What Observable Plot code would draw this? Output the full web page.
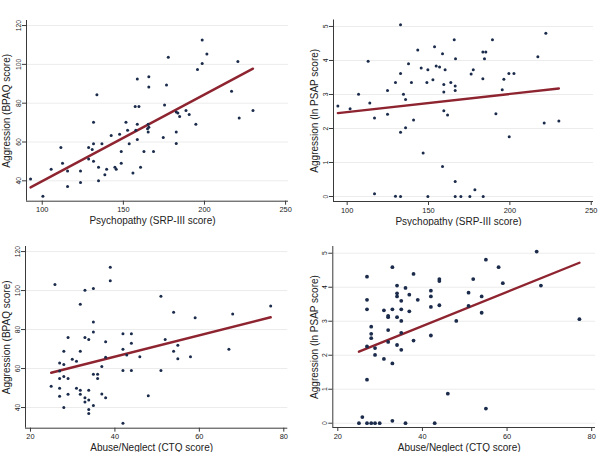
<!DOCTYPE html>
<html>
<head>
<meta charset="utf-8">
<script src="https://cdn.jsdelivr.net/npm/d3@7"></script>
<script src="https://cdn.jsdelivr.net/npm/@observablehq/plot@0.6"></script>
<style>
  html, body { margin: 0; padding: 0; background: #fff; }
  #grid { display: grid; grid-template-columns: 300px 300px; grid-template-rows: 226px 226px; width: 600px; height: 452px; }
  #grid svg { display: block; }
</style>
</head>
<body>
<div id="grid"></div>
<script>
// Panel A: Psychopathy (SRP-III) vs Aggression (BPAQ)
const srpA = [92.8,100.4,105.5,111.5,112.5,115.6,115.6,123.6,123.6,128.6,128.6,130.8,131.6,131.6,131.6,133.7,134.7,134.7,136.8,138.6,139.7,142.5,144.8,145.6,147.7,148.7,148.7,151.6,152.6,153.6,155.9,157.3,157.7,158.6,158.6,158.6,159.6,160.6,162.7,164.9,165.3,165.3,165.7,165.7,165.7,168.6,174.6,175.4,176.6,177.7,182.6,182.6,182.6,183.6,184.7,188.6,190.6,194.7,195.7,198.6,198.6,201.5,216.7,220.6,221.4,229.9];
const bpaqA = [41,32.1,46,57.2,49.1,45,37.1,45,39.1,57.2,51.3,56.1,70.2,59.1,50.1,84.3,47,40,59.1,43.1,46,63.3,47,46,64,55.1,49.1,70.2,66.1,59.1,44,78.3,66.1,92.5,69.2,61.3,78.3,47,55.1,66.8,69.2,65.1,93.6,88.4,67.6,55.1,62.3,79.1,89.4,103.7,59.2,65.2,75.5,75,73.1,76.2,74.2,69.2,97.3,112.6,100.4,105.4,86.2,101.5,72.4,76.2];

// Panel B: Psychopathy (SRP-III) vs Aggression (ln PSAP)
const srpB = [94.3,101.8,107,112.9,113.9,116.8,116.8,124.8,124.8,129.7,129.7,132.8,132.8,132.8,132.8,134.6,135.9,135.9,137.7,139.5,140.8,143.4,145.5,146.7,149,149.6,149.6,152.7,153.7,154.7,156.8,158.6,158.6,159.4,159.4,159.4,160.2,161.7,163.7,165.8,166.4,166.4,166.6,166.4,166.4,169.9,175.4,176.2,177.5,178.5,183.4,185.2,183.4,183.6,184.4,189.3,191.4,195.3,196.3,199.4,199.6,202.5,217.2,221.1,222.1,230.1];
const psapB = [2.66,2.58,3.01,3.98,2.75,2.31,0.08,3.12,2.42,3.35,0.01,5.05,3.62,1.89,0,3.01,2.85,2.02,3.9,3.35,2.25,4.31,3.78,1.28,3.35,3.73,0,3.43,4.4,3.84,3.81,0.88,4.2,3.29,3.07,2.52,3.73,2.4,3.35,4.61,3.25,3.12,4.05,0.44,0,0,0,3.6,3.73,0.2,4.25,4.25,3.46,0,4.05,4.61,2.43,3.14,3.45,3.62,1.76,3.62,4.11,2.16,4.8,2.22];

// Panel C: Abuse/Neglect (CTQ) vs Aggression (BPAQ)
const ctqC = [24.9,25.8,26.9,26.9,26.9,26.9,26.9,27.9,27.9,27.9,27.9,28.9,28.9,28.9,29.9,30.9,30.9,31.8,31.8,31.8,31.8,32.9,32.9,32.9,32.9,33.8,33.8,33.8,33.8,33.8,34.9,34.9,34.9,34.9,34.9,35.9,35.9,36.9,36.9,37.8,37.8,37.8,38.9,38.9,41.9,41.9,41.9,41.9,42.8,43.9,43.9,43.9,45.9,47.9,50.9,50.9,51.9,53.9,53.9,54.9,54.9,57.9,59,67,67.9,76.9];
const bpaqC = [50.9,103.1,62.9,58.8,54.9,49.9,45.8,68.9,62.1,55.9,40,75.9,54.9,46.8,64.8,63.8,49.9,93,68.9,48.9,46.8,100.2,75.9,45,42.9,74.9,48.9,43.9,39,36.9,101,83.9,78.8,57.1,41,57.1,54.9,61,47,73.8,65.8,45,112,105,32,77.9,69.9,59,67,77.9,73,59,66,46,97.1,59,74.9,88.9,68.9,72,65,66,86,69.9,88,92.1];

// Panel D: Abuse/Neglect (CTQ) vs Aggression (ln PSAP)
const ctqD = [25,25.8,26.9,26.9,26.9,26.9,26.9,26.9,27.9,27.9,27.9,27.9,28.8,28.8,28.8,29.9,30.9,30.9,31.9,31.9,31.9,31.9,32.9,32.9,32.9,32.9,34,34,34,34,34,35,35,35,35,35,36,36,36.9,36.9,37.9,37.9,38.9,42.9,42,42,42,42,44,44,44,46,48,50.9,50.9,52,54,54,55,55,58,59,67,68,77.1];
const psapD = [0,0.18,0,1.28,2.26,3.35,3.63,4.31,0,2.5,2.63,2.84,0,2.01,2.21,0,1.89,3.32,2.39,2.74,3.12,3.16,0.07,1.76,3.35,4.59,2.3,3.12,3.73,3.82,4.05,2.16,2.66,3.01,3.35,3.6,0,3.98,3.29,3.78,2.43,4.39,3.63,0,2.58,3.42,3.73,3.9,3.47,4.18,4.24,0.87,3.01,3.45,3.84,4.24,3.73,3.25,4.81,0.43,4.59,4.12,5.05,4.05,3.06];

const ticksSRP = [100, 150, 200, 250];
const ticksCTQ = [20, 40, 60, 80];
const ticksBPAQ = [40, 60, 80, 100, 120];
const ticksPSAP = [0, 1, 2, 3, 4, 5];

const labelSRP = "Psychopathy (SRP-III score)";
const labelCTQ = "Abuse/Neglect (CTQ score)";
const labelBPAQ = "Aggression (BPAQ score)";
const labelPSAP = "Aggression (ln PSAP score)";

const DOT = "#1b2b4b";
const LINE = "#8e2430";
const AXIS = "#3a3a3a";
const GRID = "#ececec";
const FONT = "Liberation Sans, Arial, sans-serif";

function panel(cfg) {
  const data = cfg.xs.map((x, i) => ({x, y: cfg.ys[i]}));
  return Plot.plot({
    width: 300,
    height: 226,
    marginLeft: cfg.ml, marginRight: cfg.mr, marginTop: cfg.mt, marginBottom: cfg.mb,
    style: {fontFamily: FONT, background: "#fff", color: "#222"},
    x: {domain: cfg.xd},
    y: {domain: cfg.yd},
    marks: [
      Plot.ruleY(cfg.yTicks, {y: d => d, stroke: GRID, strokeWidth: 1}),
      Plot.ruleX([cfg.xd[0]], {stroke: AXIS, strokeWidth: 1}),
      Plot.ruleY([cfg.yd[0]], {stroke: AXIS, strokeWidth: 1}),
      Plot.axisX(cfg.xTicks, {tickSize: 4, tickPadding: 2, fontSize: 7.4, stroke: AXIS, label: null}),
      Plot.axisY(cfg.yTicks, {tickSize: 4, tickFormat: () => "", stroke: AXIS, label: null}),
      Plot.text(cfg.yTicks, {y: d => d, text: d => String(d), frameAnchor: "left", rotate: -90, dx: -7.5,
        textAnchor: "middle", lineAnchor: "middle", fontSize: 6.8, fill: "#222"}),
      Plot.text([cfg.xLabel], {frameAnchor: "bottom", dy: 20, dx: -5, textAnchor: "middle", lineAnchor: "middle",
        fontSize: 10, fill: "#222"}),
      Plot.text([cfg.yLabel], {frameAnchor: "left", rotate: -90, dx: cfg.yLabelDx, textAnchor: "middle",
        lineAnchor: "middle", fontSize: 10, fill: "#222"}),
      Plot.linearRegressionY(data, {x: "x", y: "y", ci: 0, stroke: LINE, strokeWidth: 2.4}),
      Plot.dot(data, {x: "x", y: "y", r: cfg.r, fill: DOT, stroke: "none"})
    ]
  });
}

const grid = document.getElementById("grid");
grid.append(
  panel({xs: srpA, ys: bpaqA, xd: [90.3, 251.8], yd: [29.5, 122.6], xTicks: ticksSRP, yTicks: ticksBPAQ,
         xLabel: labelSRP, yLabel: labelBPAQ, ml: 26, mr: 12, mt: 20, mb: 25.3, yLabelDx: -19.5, r: 1.5}),
  panel({xs: srpB, ys: psapB, xd: [91.6, 251.4], yd: [-0.147, 5.19], xTicks: ticksSRP, yTicks: ticksPSAP,
         xLabel: labelSRP, yLabel: labelPSAP, ml: 33, mr: 7, mt: 19.5, mb: 25, yLabelDx: -19, r: 1.5}),
  panel({xs: ctqC, ys: bpaqC, xd: [18.82, 80.95], yd: [29.4, 122.6], xTicks: ticksCTQ, yTicks: ticksBPAQ,
         xLabel: labelCTQ, yLabel: labelBPAQ, ml: 25, mr: 12.7, mt: 20, mb: 24.3, yLabelDx: -18.5, r: 1.5}),
  panel({xs: ctqD, ys: psapD, xd: [18.82, 80.9], yd: [-0.126, 5.198], xTicks: ticksCTQ, yTicks: ticksPSAP,
         xLabel: labelCTQ, yLabel: labelPSAP, ml: 32.3, mr: 5, mt: 20, mb: 25, yLabelDx: -18.5, r: 1.9})
);
</script>
</body>
</html>
